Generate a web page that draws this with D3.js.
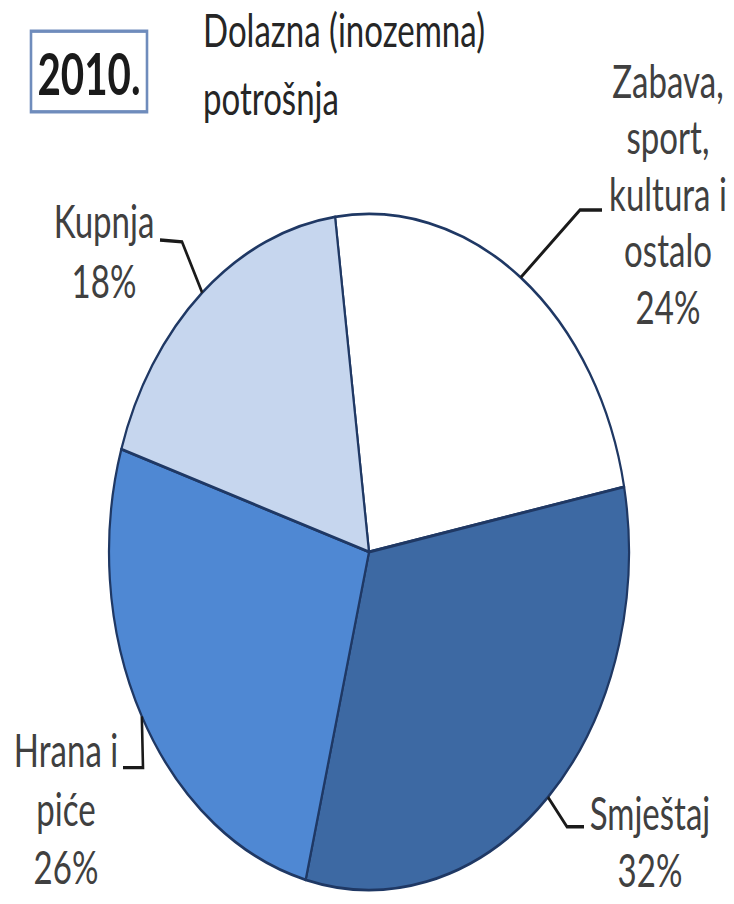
<!DOCTYPE html>
<html><head><meta charset="utf-8">
<script src="https://cdn.jsdelivr.net/npm/d3@7"></script>
<style>
html,body{margin:0;padding:0;background:#fff;}
svg{display:block;}
text{font-family:Lato,"Open Sans",sans-serif;}
</style></head>
<body>
<svg id="chart" width="734" height="904"></svg>
<script>
const categories = ["Zabava, sport, kultura i ostalo", "Smještaj", "Hrana i piće", "Kupnja"];
const values = [24, 32, 26, 18];
const labelLines = [["Zabava,", "sport,", "kultura i", "ostalo", "24%"], ["Smještaj", "32%"], ["Hrana i", "piće", "26%"], ["Kupnja", "18%"]];
const colors = ["#ffffff", "#3d69a3", "#4f88d3", "#c6d6ee"];
const yearLabel = "2010.";
const titleLines = ["Dolazna (inozemna)", "potrošnja"];

const W = 734, H = 904, SY = 1.3;
const svg = d3.select("#chart");
const g = svg.append("g").attr("transform", `scale(1,${SY})`);

const cx = 369, cy = 424.6, R = 260;
const startA = -7.5 * Math.PI / 180;
const pie = d3.pie().sort(null).startAngle(startA).endAngle(startA + 2 * Math.PI);
const arcs = pie(values);
const arc = d3.arc().innerRadius(0).outerRadius(R);

const pg = g.append("g").attr("transform", `translate(${cx},${cy})`);
pg.selectAll("path").data(arcs).enter().append("path")
  .attr("d", arc)
  .attr("fill", (d, i) => colors[i])
  .attr("stroke", "#1f3864")
  .attr("stroke-width", 2.2)
  .attr("stroke-linejoin", "round");

// measure to condense text like the narrow original face
const FS = 36;
const probe = g.append("text").attr("font-size", FS).text("Dolazna (inozemna)");
const SX = 282 / probe.node().getComputedTextLength();
probe.remove();

function txt(x, y, s, opts) {
  opts = opts || {};
  const t = g.append("text")
    .attr("transform", `translate(${x},${y}) scale(${opts.sx || SX},1)`)
    .attr("text-anchor", opts.anchor || "middle")
    .attr("font-size", opts.size || FS)
    .attr("fill", opts.fill || "#404040")
    .text(s);
  if (opts.bold) t.attr("font-weight", "bold");
  return t;
}

const layout = [
  {x: 668, y0: 75, dy: 43.5, elbow: [[580, 161.5], [602, 161.5]]},
  {x: 650, y0: 638.5, dy: 44, elbow: [[567, 636], [584, 636]]},
  {x: 66, y0: 590, dy: 45, elbow: [[143, 590.5], [123, 590.5]]},
  {x: 104, y0: 183, dy: 46, elbow: [[182, 186], [160, 184.6]]}
];

arcs.forEach((d, i) => {
  const L = layout[i];
  const m = (d.startAngle + d.endAngle) / 2;
  const px = cx + R * Math.sin(m), py = cy - R * Math.cos(m);
  const pts = [[px, py]].concat(L.elbow);
  g.append("path")
    .attr("d", d3.line()(pts))
    .attr("fill", "none").attr("stroke", "#1a1a1a").attr("stroke-width", 2.6);
  labelLines[i].forEach((s, j) => txt(L.x, L.y0 + j * L.dy, s));
});

// title box
g.append("rect").attr("x", 31).attr("y", 24).attr("width", 116).attr("height", 62)
  .attr("fill", "#fff").attr("stroke", "#6f8cbc").attr("stroke-width", 2.6);
txt(89, 73, yearLabel, {size: 44, bold: true, fill: "#1a1a1a"});
titleLines.forEach((s, j) => txt(203, 36 + j * 52.5, s, {anchor: "start", fill: "#262626"}));
</script>
</body></html>
